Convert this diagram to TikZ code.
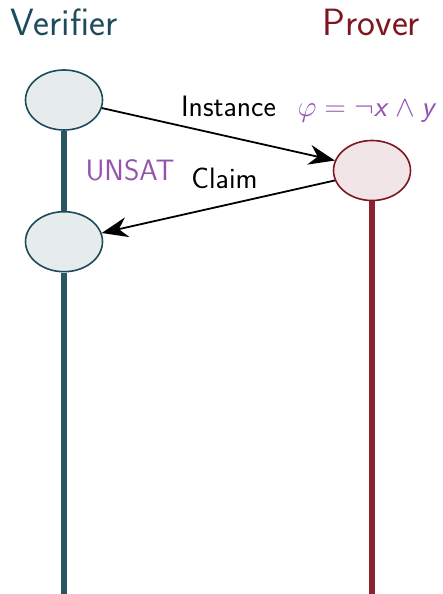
\RequirePackage{fix-cm}
\documentclass[tikz,border=0pt]{standalone}
\usepackage{fontspec}
\usetikzlibrary{shapes.geometric,arrows.meta}

\definecolor{vtext}{HTML}{1C4B5B}
\definecolor{vline}{HTML}{2A5565}
\definecolor{vfill}{HTML}{E6ECEC}
\definecolor{ptext}{HTML}{7E1620}
\definecolor{pline}{HTML}{8B2430}
\definecolor{pfill}{HTML}{F1E5E7}
\definecolor{note}{HTML}{9454AE}

\tikzset{
  party/.style={font=\sffamily\fontsize{38}{42}\selectfont, anchor=base, inner sep=0},
  event/.style={ellipse, minimum width=77pt, minimum height=60pt, inner sep=0, line width=1.6pt},
  vevent/.style={event, draw=vtext, fill=vfill},
  pevent/.style={event, draw=ptext, fill=pfill},
  lifeline/.style={line width=6.5pt},
  msg/.style={line width=1.8pt, -{Stealth[length=26pt, width=20pt]}},
  lbl/.style={font=\sffamily\fontsize{29.5}{33}\selectfont, anchor=base, inner sep=0},
}

\begin{document}
\begin{tikzpicture}[x=1pt, y=-1pt]
  \useasboundingbox (0,0) rectangle (442,594);

  % party headers
  \node[party, text=vtext] (vname) at (64,36) {Verifier};
  \node[party, text=ptext] (pname) at (371.5,36) {Prover};

  % end points of the lifelines
  \coordinate (vend) at (64,594);
  \coordinate (pend) at (372,594);

  % events
  \node[vevent] (v1) at (64,100) {};
  \node[vevent] (v2) at (64,241.7) {};
  \node[pevent] (p1) at (372,170.5) {};

  % lifelines
  \draw[lifeline, vline] (v1.south) -- (v2.north);
  \draw[lifeline, vline] (v2.south) -- (vend);
  \draw[lifeline, pline] (p1.south) -- (pend);

  % messages
  \draw[msg] (v1.-12) -- (p1.165);
  \draw[msg] (p1.195) -- (v2.13);

  % labels
  \node[lbl] (inst) at (228.5,116.5) {Instance};
  \node[lbl, text=note] (phi) at (367,116.5) {$\varphi = \neg\textsf{\textit{x}} \wedge \textsf{\textit{y}}$};
  \node[lbl, text=note] (unsat) at (130,180) {UNSAT};
  \node[lbl] (claim) at (224.5,188) {Claim};
\end{tikzpicture}
\end{document}
